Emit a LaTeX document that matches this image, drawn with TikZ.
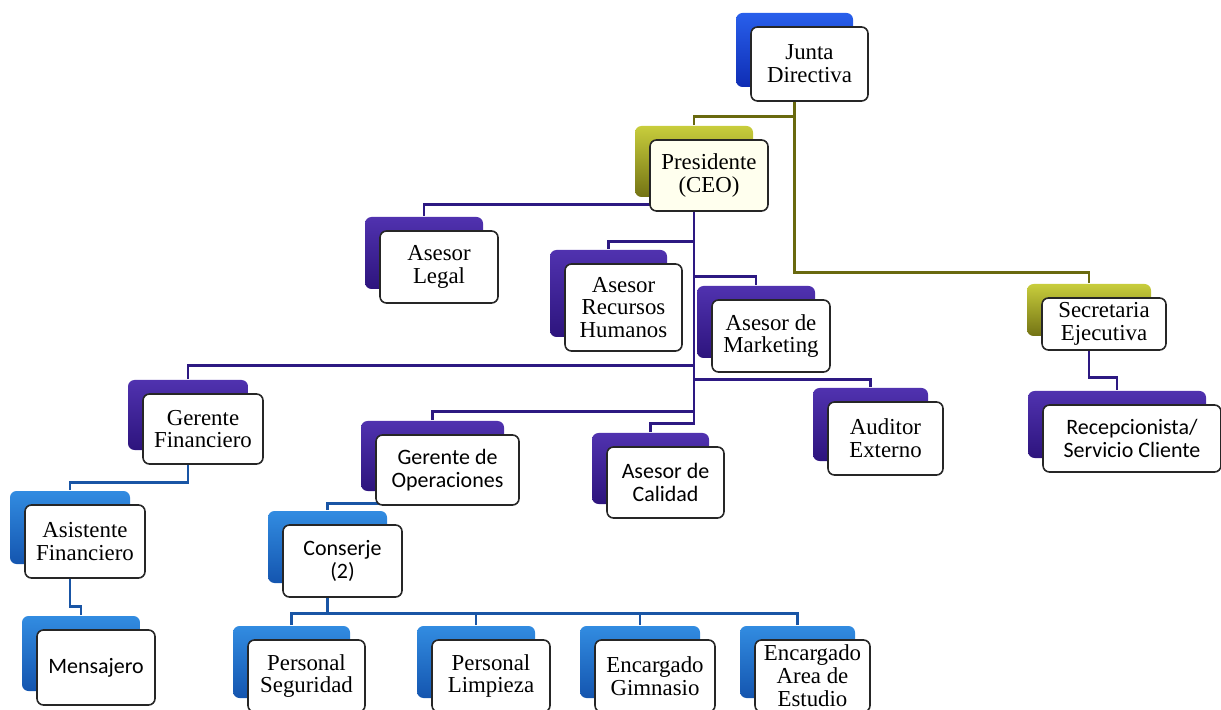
\documentclass[tikz,border=0pt]{standalone}
\usepackage{fontspec}
\setmainfont{Liberation Serif}
\setsansfont{Carlito}
\usetikzlibrary{backgrounds}

\definecolor{olivelk}{RGB}{105,105,15}
\definecolor{indigolk}{RGB}{45,25,130}
\definecolor{bluelk}{RGB}{25,85,165}
\definecolor{juntatop}{RGB}{40,95,235}
\definecolor{juntabot}{RGB}{15,45,180}
\definecolor{indtop}{RGB}{80,50,175}
\definecolor{indbot}{RGB}{45,20,125}
\definecolor{olvtop}{RGB}{200,205,60}
\definecolor{olvbot}{RGB}{115,115,20}
\definecolor{blutop}{RGB}{50,140,225}
\definecolor{blubot}{RGB}{20,85,175}

\tikzset{
  post/.style={draw=black!85, line width=0.9pt, fill=white, rounded corners=1.3mm,
    align=center, inner sep=0pt, font=\fontsize{13}{13}\selectfont},
  dims/.style 2 args={minimum width=#1*0.2mm, minimum height=#2*0.2mm},
  backcol/.style={preaction={draw=none, top color=#1top, bottom color=#1bot,
    transform canvas={shift={(-15,-14)}}}},
  sanstext/.style={font=\sffamily\fontsize{12.5}{13}\selectfont},
  olivelink/.style={draw=olivelk, line width=1.6pt},
  indlink/.style={draw=indigolk, line width=1.6pt},
  bluelink/.style={draw=bluelk, line width=1.6pt}
}

\begin{document}
\begin{tikzpicture}[x=0.2mm, y=-0.2mm]
\useasboundingbox (0,0) rectangle (1221,710);
% top of the chart
\node[post, backcol=junta, dims={117}{74}] (junta) at (809.5,64) {Junta\\Directiva};
\node[post, backcol=olv, dims={118}{71}, fill={rgb,255:red,255;green,255;blue,238}] (pres) at (709,175.5) {Presidente\\(CEO)};
\node[post, backcol=olv, dims={124}{52}] (secre) at (1104,324) {Secretaria\\Ejecutiva};
% advisers
\node[post, backcol=ind, dims={118}{72}] (legal) at (439,267) {Asesor\\Legal};
\node[post, backcol=ind, dims={117}{87}] (rrhh) at (623.5,307.5) {Asesor\\Recursos\\Humanos};
\node[post, backcol=ind, dims={118}{72}] (mkt) at (771,336) {Asesor de\\Marketing};
\node[post, backcol=ind, dims={178}{67}, sanstext] (recep) at (1132,438.5) {Recepcionista/\\Servicio Cliente};
\node[post, backcol=ind, dims={120}{70}] (gfin) at (203,429) {Gerente\\Financiero};
\node[post, backcol=ind, dims={143}{70}, sanstext] (gop) at (447.5,470) {Gerente de\\Operaciones};
\node[post, backcol=ind, dims={117}{71}, sanstext] (calidad) at (665.5,482.5) {Asesor de\\Calidad};
\node[post, backcol=ind, dims={115}{73}] (auditor) at (885.5,438.5) {Auditor\\Externo};
% staff
\node[post, backcol=blu, dims={120}{73}] (asist) at (85,541.5) {Asistente\\Financiero};
\node[post, backcol=blu, dims={119}{72}, sanstext] (conserje) at (342.5,561) {Conserje\\(2)};
\node[post, backcol=blu, dims={118}{75}, sanstext] (mens) at (96,667.5) {Mensajero};
\node[post, backcol=blu, dims={117}{72}] (seg) at (306.5,676) {Personal\\Seguridad};
\node[post, backcol=blu, dims={118}{72}] (limp) at (491,676) {Personal\\Limpieza};
\node[post, backcol=blu, dims={120}{72}] (gim) at (655,676) {Encargado\\Gimnasio};
\node[post, backcol=blu, dims={115}{72}] (estudio) at (812.5,676) {Encargado\\Area de\\Estudio};

\foreach \n in {junta,pres,secre,legal,rrhh,mkt,recep,gfin,gop,calidad,auditor,asist,conserje,mens,seg,limp,gim,estudio}{
  \coordinate (\n-t) at ([shift={(-15,-14)}]\n.north);
  \coordinate (\n-b) at ([shift={(-15,0)}]\n.south);
}

% connectors
\begin{scope}[on background layer]
\foreach \c/\p/\d/\s in {pres/junta/9/olivelink, secre/junta/11/olivelink,
    legal/pres/12/indlink, rrhh/pres/8/indlink, mkt/pres/9/indlink, gfin/pres/14/indlink,
    auditor/pres/8/indlink, gop/pres/9/indlink, calidad/pres/9/indlink, recep/secre/13/indlink,
    asist/gfin/8/bluelink, mens/asist/9/bluelink, conserje/gop/7/bluelink,
    seg/conserje/12/bluelink, limp/conserje/12/bluelink, gim/conserje/12/bluelink, estudio/conserje/12/bluelink}
  \draw[\s] (\c-t) -- ++(0,-\d) -| (\p-b);
\end{scope}
\end{tikzpicture}
\end{document}
